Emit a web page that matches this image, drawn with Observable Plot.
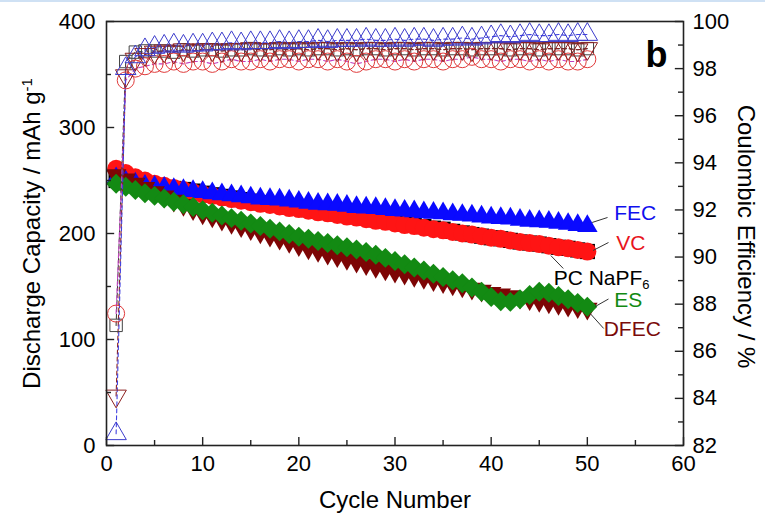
<!DOCTYPE html>
<html><head><meta charset="utf-8">
<script src="https://cdn.jsdelivr.net/npm/d3@7"></script>
<script src="https://cdn.jsdelivr.net/npm/@observablehq/plot@0.6"></script>
<style>
body{margin:0;background:#fff;}
#wrap{position:relative;width:765px;height:518px;overflow:hidden;background:#fff;}
#topline{position:absolute;left:0;top:0;width:765px;height:2px;background:#cfe1f4;}
</style></head><body><div id="wrap"><div id="topline"></div></div>
<script>
// ---- data ----
const cycles = d3.range(1, 51);

// Discharge capacity (mAh g-1), left axis
const capFEC = [252,249,247,245,244,243,242,241,240,239, 238,237,236,235,234,233,232.5,232,231,230, 229,228,227.5,227,226,225,224.5,224,223,222, 221.5,221,220,219.5,219,218,217.5,217,216,215, 214.5,214,213,212,211.5,211,210,209,208,207];
const capVC  = [261,257,253,250,247,245,243,241,239,237, 235.5,234,232.5,231,229.5,228,227,225.5,224,223, 221.5,220,219,217.5,216,215,213.5,212,211,209.5, 208,207,205.5,204,203,201.5,200,199,197.5,196, 195,193.5,192,191,190,188.5,187,186,184.5,183];
const capPC  = [250,248,247,245.5,244.5,243.5,242.5,241.5,240,238, 236.5,235,233.5,232,230.5,229,228,226.5,225,224, 222.5,221,220,218.5,217,216,214.5,213,212,210.5, 209,208,206.5,205,204,202,200.5,199,197.5,196, 195,193.5,192,191,190,188.5,187,186,184.5,183];
const capES  = [247,244,241,238,235.5,233,230,227.5,225,222, 219.5,217,214.5,212,209.5,207,204.5,202,199.5,197, 195,193,191,189,187,185,182.5,180,177,174, 171,168,165,162,159,156,153,149,145,140, 136,135.5,138,142,145,144,141,138,134.5,131];
const capDFEC= [255,251,247,243,239,235,231,227,223,219, 216,213,210,207,204,201,198,195,192,189, 186,183.5,181,178.5,176,173.5,171,168.5,166,164, 162,160,158,156,154,152,150,148,146,144, 142.5,141,139.5,138,136.5,135,133.5,132,130.5,129];

// Coulombic efficiency (%), right axis
const ceFEC  = [82.5,98.0,98.5,98.8,98.9,98.95,99.0,98.95,99.0,99.0, 99.05,99.05,99.1,99.05,99.1,99.1,99.1,99.15,99.1,99.15, 99.15,99.2,99.15,99.2,99.2,99.2,99.25,99.2,99.2,99.25, 99.2,99.25,99.25,99.2,99.25,99.25,99.3,99.25,99.3,99.35, 99.4,99.35,99.4,99.45,99.4,99.4,99.45,99.4,99.45,99.45];
const ceVC   = [87.6,97.5,98.0,98.1,98.2,98.2,98.3,98.2,98.3,98.3, 98.2,98.3,98.4,98.3,98.3,98.4,98.3,98.4,98.4,98.3, 98.4,98.4,98.3,98.4,98.3,98.2,98.3,98.4,98.4,98.3, 98.4,98.3,98.4,98.4,98.3,98.4,98.4,98.5,98.4,98.4, 98.3,98.4,98.4,98.3,98.4,98.3,98.4,98.3,98.3,98.4];
const cePC   = [87.1,98.3,98.7,98.75,98.75,98.75,98.7,98.8,98.75,98.8, 98.8,98.75,98.8,98.8,98.85,98.8,98.8,98.85,98.8,98.85, 98.8,98.85,98.85,98.8,98.85,98.8,98.85,98.85,98.8,98.85, 98.85,98.8,98.85,98.85,98.8,98.85,98.85,98.8,98.85,98.85, 98.85,98.8,98.85,98.85,98.8,98.85,98.85,98.85,98.8,98.85];
const ceDFEC = [84.1,97.7,98.4,98.6,98.7,98.75,98.7,98.8,98.75,98.8, 98.8,98.75,98.8,98.8,98.85,98.8,98.8,98.85,98.8,98.85, 98.8,98.85,98.85,98.8,98.85,98.8,98.85,98.85,98.8,98.85, 98.85,98.8,98.85,98.85,98.8,98.85,98.85,98.8,98.85,98.85, 98.85,98.8,98.85,98.85,98.8,98.85,98.85,98.85,98.8,98.85];

// axis ticks
const capTicks = [0,100,200,300,400];
const capMinor = [50,150,250,350];
const ceTicks = [82,84,86,88,90,92,94,96,98,100];
const ceMinor = [83,85,87,89,91,93,95,97,99];
const xTicks = [0,10,20,30,40,50,60];
const xMinor = [5,15,25,35,45,55];

// labels (annotation)
const labelText = ["FEC","VC","PC NaPF6","ES","DFEC"];
const labelColor = ["#1010ee","#e8141c","#000000","#128a12","#7a0a0a"];
const labelX = [52.8,53.0,46.5,52.8,51.7];
const labelY = [219,191,157.5,136.8,109.5];
const leadX1 = [50.5,50.6,46.2,50.8,50.3];
const leadY1 = [210.4,184,179.2,131,124.5];
const leadX2 = [52.1,52.2,47.5,52.2,51.7];
const leadY2 = [215.1,191.5,167,138.2,110.4];

// ---- helpers ----
const ceToCap = ce => (ce - 82) / 18 * 400;
const capToCe = c => 82 + c / 400 * 18;
const rows = arr => cycles.map((c, i) => ({cycle: c, v: arr[i]}));
const triangleDown = {
  draw(ctx, size) {
    const y = Math.sqrt(size / (Math.sqrt(3) * 3));
    ctx.moveTo(0, 2 * y);
    ctx.lineTo(-Math.sqrt(3) * y, -y);
    ctx.lineTo(Math.sqrt(3) * y, -y);
    ctx.closePath();
  }
};
const labels = labelText.map((t, i) => ({t, c: labelColor[i], x: labelX[i], y: labelY[i], x1: leadX1[i], y1: leadY1[i], x2: leadX2[i], y2: leadY2[i]}));

const C = {fec: "#0a0aff", vc: "#ff1414", pc: "#000000", es: "#138a13", dfec: "#7d0505"};
const OC = {fec: "#3c3ccc", vc: "#e03a3a", pc: "#444444", dfec: "#8c2020"};
const FONT = 24;

const capLine = (arr, col) => Plot.line(rows(arr), {x: "cycle", y: "v", stroke: col, strokeWidth: 1});
const ceLine = (arr, col) => Plot.line(rows(arr), {x: "cycle", y: d => ceToCap(d.v), stroke: col, strokeWidth: 1.1, strokeDasharray: "4,3"});

const chart = Plot.plot({
  width: 765, height: 518,
  marginLeft: 106, marginRight: 82, marginTop: 21, marginBottom: 73,
  x: {domain: [0, 60]},
  y: {domain: [0, 400]},
  style: {fontFamily: "'Liberation Sans', Arial, sans-serif", fontSize: "22px", color: "#000", background: "#fff"},
  marks: [
    // capacity lines & markers
    capLine(capPC, C.pc), capLine(capVC, C.vc), capLine(capFEC, C.fec), capLine(capDFEC, C.dfec), capLine(capES, C.es),
    Plot.dot(rows(capPC), {x: "cycle", y: "v", symbol: "square", r: 8.6, fill: C.pc, stroke: "none"}),
    Plot.dot(rows(capVC), {x: "cycle", y: "v", symbol: "circle", r: 9, fill: C.vc, stroke: "none"}),
    Plot.dot(rows(capFEC), {x: "cycle", y: "v", symbol: "triangle", r: 7.6, fill: C.fec, stroke: "none"}),
    Plot.dot(rows(capDFEC), {x: "cycle", y: "v", symbol: triangleDown, r: 7.6, fill: C.dfec, stroke: "none"}),
    Plot.dot(rows(capES), {x: "cycle", y: "v", symbol: "diamond2", r: 9, fill: C.es, stroke: "none"}),
    // coulombic efficiency lines & open markers
    ceLine(cePC, OC.pc), ceLine(ceDFEC, OC.dfec), ceLine(ceVC, "#c040c0"), ceLine(ceFEC, "#4040e0"),
    Plot.dot(rows(cePC), {x: "cycle", y: d => ceToCap(d.v), symbol: "square", r: 7, fill: "none", stroke: OC.pc, strokeWidth: 1}),
    Plot.dot(rows(ceVC), {x: "cycle", y: d => ceToCap(d.v), symbol: "circle", r: 8.5, fill: "none", stroke: OC.vc, strokeWidth: 1}),
    Plot.dot(rows(ceDFEC), {x: "cycle", y: d => ceToCap(d.v), symbol: triangleDown, r: 7.6, fill: "none", stroke: OC.dfec, strokeWidth: 1}),
    Plot.dot(rows(ceFEC), {x: "cycle", y: d => ceToCap(d.v), symbol: "triangle", r: 7.6, fill: "none", stroke: OC.fec, strokeWidth: 1}),
    // frame and ticks (inward)
    Plot.frame({stroke: "#222", strokeWidth: 1.6}),
    Plot.ruleY(capTicks, {x1: 0, x2: 0.85, stroke: "#222", strokeWidth: 1.4}),
    Plot.ruleY(capMinor, {x1: 0, x2: 0.52, stroke: "#222", strokeWidth: 1.4}),
    Plot.ruleY(ceTicks.map(ceToCap), {x1: 59.15, x2: 60, stroke: "#222", strokeWidth: 1.4}),
    Plot.ruleY(ceMinor.map(ceToCap), {x1: 59.48, x2: 60, stroke: "#222", strokeWidth: 1.4}),
    Plot.ruleX(xTicks, {y1: 0, y2: 7.5, stroke: "#222", strokeWidth: 1.4}),
    Plot.ruleX(xMinor, {y1: 0, y2: 4.7, stroke: "#222", strokeWidth: 1.4}),
    // axes
    Plot.axisY({anchor: "left", ticks: capTicks, tickSize: 0, tickPadding: 11, fontSize: 22, label: null}),
    Plot.axisY({anchor: "right", ticks: ceTicks.map(ceToCap), tickFormat: d => Math.round(capToCe(d)), tickSize: 0, tickPadding: 9, fontSize: 22, label: null}),
    Plot.axisX({anchor: "bottom", ticks: xTicks, tickSize: 0, tickPadding: 10, fontSize: 22, label: null}),
    // titles
    Plot.text(["Cycle Number"], {frameAnchor: "bottom", dy: 55, lineAnchor: "middle", textAnchor: "middle", fontSize: FONT, text: d => d}),
    Plot.text(["Discharge Capacity / mAh g"], {frameAnchor: "left", dx: -74, dy: 0, rotate: -90, lineAnchor: "middle", textAnchor: "middle", fontSize: FONT, text: d => d}),
    Plot.text(["Coulombic Efficiency / %"], {frameAnchor: "right", dx: 62, dy: 3, rotate: 90, lineAnchor: "middle", textAnchor: "middle", fontSize: FONT, text: d => d}),
    Plot.text(["b"], {frameAnchor: "top-right", dx: -16, dy: 34, lineAnchor: "middle", textAnchor: "end", fontSize: 36, fontWeight: "bold", text: d => d}),
    // series labels
    Plot.link(labels, {x1: "x1", y1: "y1", x2: "x2", y2: "y2", stroke: "#333", strokeWidth: 1}),
    Plot.text(labels, {x: "x", y: "y", text: "t", fill: "c", textAnchor: "start", lineAnchor: "middle", fontSize: 21})
  ]
});

// subscripts / superscripts as real text
d3.select(chart).selectAll("text").each(function() {
  if (this.textContent === "PC NaPF6") {
    this.textContent = "PC NaPF";
    d3.select(this).append("tspan").attr("dy", "0.25em").attr("font-size", 13).text("6");
  } else if (this.textContent === "Discharge Capacity / mAh g") {
    d3.select(this).append("tspan").attr("dy", "-0.55em").attr("font-size", 15).text("-1");
  }
});

document.getElementById("wrap").appendChild(chart);
</script>
</body></html>
